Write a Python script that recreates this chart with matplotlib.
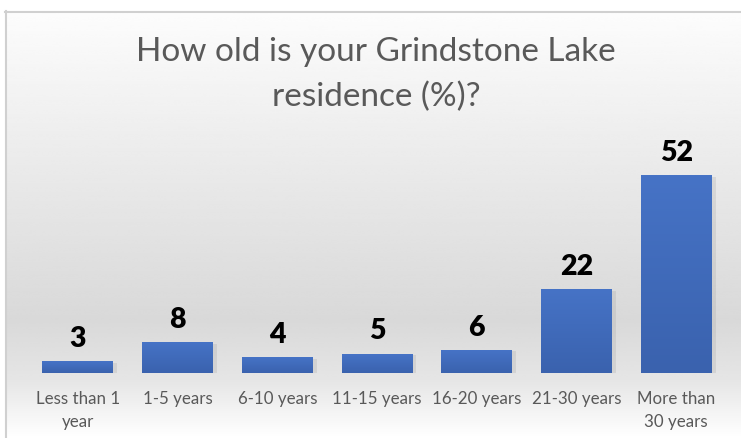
import matplotlib
matplotlib.use("Agg")
import matplotlib.pyplot as plt
import numpy as np
from matplotlib.colors import LinearSegmentedColormap

categories = ["Less than 1\nyear", "1-5 years", "6-10 years", "11-15 years",
              "16-20 years", "21-30 years", "More than\n30 years"]
values = [3, 8, 4, 5, 6, 22, 52]
title = "How old is your Grindstone Lake\nresidence (%)?"

W, H = 741, 438
fig = plt.figure(figsize=(W / 100, H / 100), dpi=100)
fig.patch.set_facecolor("white")

# background gradient (chart area frame starts at x=5, y=11 from top)
bg = fig.add_axes([0, 0, 1, 1])
bg.set_xlim(0, W)
bg.set_ylim(H, 0)
bg.axis("off")
ys = np.array([11, 140, 320, 380, 438])
vals = np.array([0.99, 0.93, 0.85, 0.90, 1.0])
yy = np.linspace(11, 438, 400)
col = np.interp(yy, ys, vals)
grad = np.repeat(col[:, None], 2, axis=1)
bg.imshow(grad, cmap="gray", vmin=0, vmax=1, extent=[5, W, 438, 11],
          aspect="auto", interpolation="bicubic")
bg.plot([5, W], [11.5, 11.5], color="#d0d0d0", lw=1.5)
bg.plot([5.5, 5.5], [11, H], color="#d0d0d0", lw=1.5)

# main axes
left_px, right_px = 28, 726
base_px = 373
ppu = 3.79
ymax = 60
ax = fig.add_axes([left_px / W, (H - base_px) / H, (right_px - left_px) / W,
                   ymax * ppu / H])
ax.set_xlim(-0.5, len(values) - 0.5)
ax.set_ylim(0, ymax)
ax.patch.set_alpha(0)
for s in ax.spines.values():
    s.set_visible(False)
ax.set_yticks([])

cmap = LinearSegmentedColormap.from_list("bar", ["#3a62ae", "#4673c6"])
bw = 0.71
x = np.arange(len(values))
for xi, v in zip(x, values):
    # soft shadow
    ax.bar(xi + 0.04, v, width=bw, bottom=-0.3, color="#9a9a9a", alpha=0.22,
           zorder=1, linewidth=0)
    g = np.linspace(0, 1, 100)[:, None]
    ax.imshow(g, cmap=cmap, extent=[xi - bw / 2, xi + bw / 2, 0, v],
              origin="lower", aspect="auto", zorder=2)
    ax.annotate(str(v), (xi, v), xytext=(0, 7), textcoords="offset points",
                ha="center", va="bottom", fontsize=20.5, fontweight="heavy",
                color="black", family=["Lato", "DejaVu Sans"])
ax.set_xlim(-0.5, len(values) - 0.5)
ax.set_ylim(0, ymax)

ax.set_xticks(x)
ax.set_xticklabels(categories, fontsize=12.2, color="#595959",
                   family=["Lato", "DejaVu Sans"], linespacing=1.55)
ax.tick_params(axis="x", length=0, pad=13)

fig.text(376 / W, 1 - 75 / H, title, ha="center", va="center", fontsize=24,
         color="#595959", family=["Lato", "DejaVu Sans"], linespacing=1.6)

fig.savefig("out.png", dpi=100)
